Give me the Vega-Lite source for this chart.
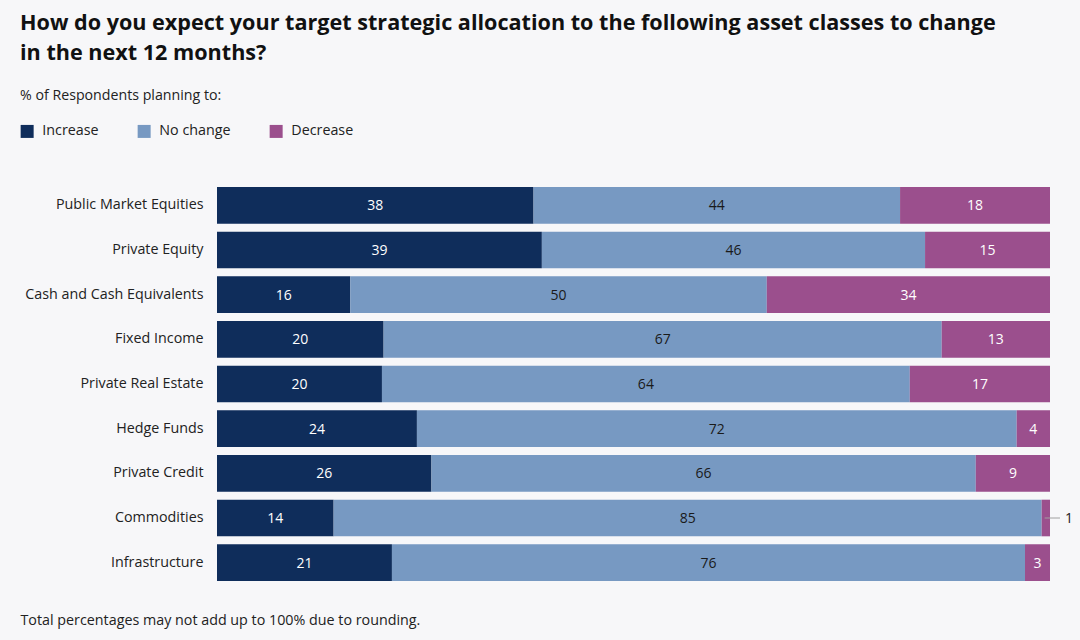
{
  "$schema": "https://vega.github.io/schema/vega-lite/v6.json",
  "width": 833,
  "height": 402,
  "autosize": {"type": "none"},
  "padding": {"left": 217, "top": 183, "right": 30, "bottom": 55},
  "background": "#f7f7f9",
  "title": {
    "text": ["How do you expect your target strategic allocation to the following asset classes to change", "in the next 12 months?"],
    "subtitle": "% of Respondents planning to:",
    "anchor": "start",
    "frame": "group",
    "dx": -197,
    "offset": 21,
    "font": "Open Sans",
    "fontSize": 21.6,
    "fontWeight": "bold",
    "color": "#111111",
    "lineHeight": 30,
    "subtitleFont": "Open Sans",
    "subtitleFontSize": 14.2,
    "subtitleColor": "#222222",
    "subtitlePadding": 24
  },
  "config": {
    "view": {"stroke": null},
    "font": "Open Sans"
  },
  "data": {
    "values": [
      {"category": "Public Market Equities", "group": "Increase", "value": 38},
      {"category": "Public Market Equities", "group": "No change", "value": 44},
      {"category": "Public Market Equities", "group": "Decrease", "value": 18},
      {"category": "Private Equity", "group": "Increase", "value": 39},
      {"category": "Private Equity", "group": "No change", "value": 46},
      {"category": "Private Equity", "group": "Decrease", "value": 15},
      {"category": "Cash and Cash Equivalents", "group": "Increase", "value": 16},
      {"category": "Cash and Cash Equivalents", "group": "No change", "value": 50},
      {"category": "Cash and Cash Equivalents", "group": "Decrease", "value": 34},
      {"category": "Fixed Income", "group": "Increase", "value": 20},
      {"category": "Fixed Income", "group": "No change", "value": 67},
      {"category": "Fixed Income", "group": "Decrease", "value": 13},
      {"category": "Private Real Estate", "group": "Increase", "value": 20},
      {"category": "Private Real Estate", "group": "No change", "value": 64},
      {"category": "Private Real Estate", "group": "Decrease", "value": 17},
      {"category": "Hedge Funds", "group": "Increase", "value": 24},
      {"category": "Hedge Funds", "group": "No change", "value": 72},
      {"category": "Hedge Funds", "group": "Decrease", "value": 4},
      {"category": "Private Credit", "group": "Increase", "value": 26},
      {"category": "Private Credit", "group": "No change", "value": 66},
      {"category": "Private Credit", "group": "Decrease", "value": 9},
      {"category": "Commodities", "group": "Increase", "value": 14},
      {"category": "Commodities", "group": "No change", "value": 85},
      {"category": "Commodities", "group": "Decrease", "value": 1},
      {"category": "Infrastructure", "group": "Increase", "value": 21},
      {"category": "Infrastructure", "group": "No change", "value": 76},
      {"category": "Infrastructure", "group": "Decrease", "value": 3}
    ]
  },
  "transform": [
    {"calculate": "indexof(['Increase','No change','Decrease'], datum.group)", "as": "rank"},
    {"stack": "value", "groupby": ["category"], "sort": [{"field": "rank", "order": "ascending"}], "offset": "normalize", "as": ["x0", "x1"]},
    {"calculate": "(datum.x0 + datum.x1) / 2", "as": "mid"}
  ],
  "encoding": {
    "y": {
      "field": "category",
      "type": "nominal",
      "sort": ["Public Market Equities", "Private Equity", "Cash and Cash Equivalents", "Fixed Income", "Private Real Estate", "Hedge Funds", "Private Credit", "Commodities", "Infrastructure"],
      "scale": {"paddingInner": 0.18, "paddingOuter": 0.09},
      "axis": {
        "title": null,
        "ticks": false,
        "domain": false,
        "labelPadding": 14,
        "labelFontSize": 14.3,
        "labelColor": "#222222",
        "labelFont": "Open Sans"
      }
    }
  },
  "layer": [
    {
      "mark": {"type": "bar"},
      "encoding": {
        "x": {
          "field": "x0",
          "type": "quantitative",
          "scale": {"domain": [0, 1], "nice": false},
          "axis": {
            "labels": false,
            "ticks": false,
            "domain": false,
            "grid": false,
            "title": "Total percentages may not add up to 100% due to rounding.",
            "titleX": -197,
            "titleY": 35,
            "titleAlign": "left",
            "titleBaseline": "middle",
            "titleFont": "Open Sans",
            "titleFontSize": 14.3,
            "titleFontWeight": "normal",
            "titleColor": "#222222"
          }
        },
        "x2": {"field": "x1"},
        "color": {
          "field": "group",
          "type": "nominal",
          "scale": {"domain": ["Increase", "No change", "Decrease"], "range": ["#0f2d5b", "#7799c2", "#9b4f8d"]},
          "legend": {
            "title": null,
            "orient": "none",
            "direction": "horizontal",
            "legendX": -197,
            "legendY": -59,
            "symbolType": "square",
            "symbolSize": 169,
            "symbolStrokeWidth": 0,
            "symbolOpacity": 1,
            "labelFont": "Open Sans",
            "labelFontSize": 14.3,
            "labelColor": "#222222",
            "labelOffset": 8,
            "columnPadding": 38
          }
        }
      }
    },
    {
      "transform": [{"filter": "datum.value >= 2"}],
      "mark": {"type": "text", "fontSize": 14, "font": "Open Sans", "align": "center", "baseline": "middle", "dy": 1},
      "encoding": {
        "x": {"field": "mid", "type": "quantitative"},
        "text": {"field": "value", "type": "quantitative"},
        "color": {
          "condition": {"test": "datum.group === 'No change'", "value": "#1a1a1a"},
          "value": "#ffffff"
        }
      }
    },
    {
      "transform": [{"filter": "datum.value < 2"}],
      "mark": {"type": "rule", "color": "#a0a0a0", "strokeWidth": 1, "xOffset": 3, "x2Offset": 10},
      "encoding": {
        "x": {"field": "x0", "type": "quantitative"},
        "x2": {"field": "x1"}
      }
    },
    {
      "transform": [{"filter": "datum.value < 2"}],
      "mark": {"type": "text", "fontSize": 14, "font": "Open Sans", "align": "left", "baseline": "middle", "dx": 15, "dy": 1, "color": "#222222"},
      "encoding": {
        "x": {"field": "x1", "type": "quantitative"},
        "text": {"field": "value", "type": "quantitative"}
      }
    }
  ]
}
